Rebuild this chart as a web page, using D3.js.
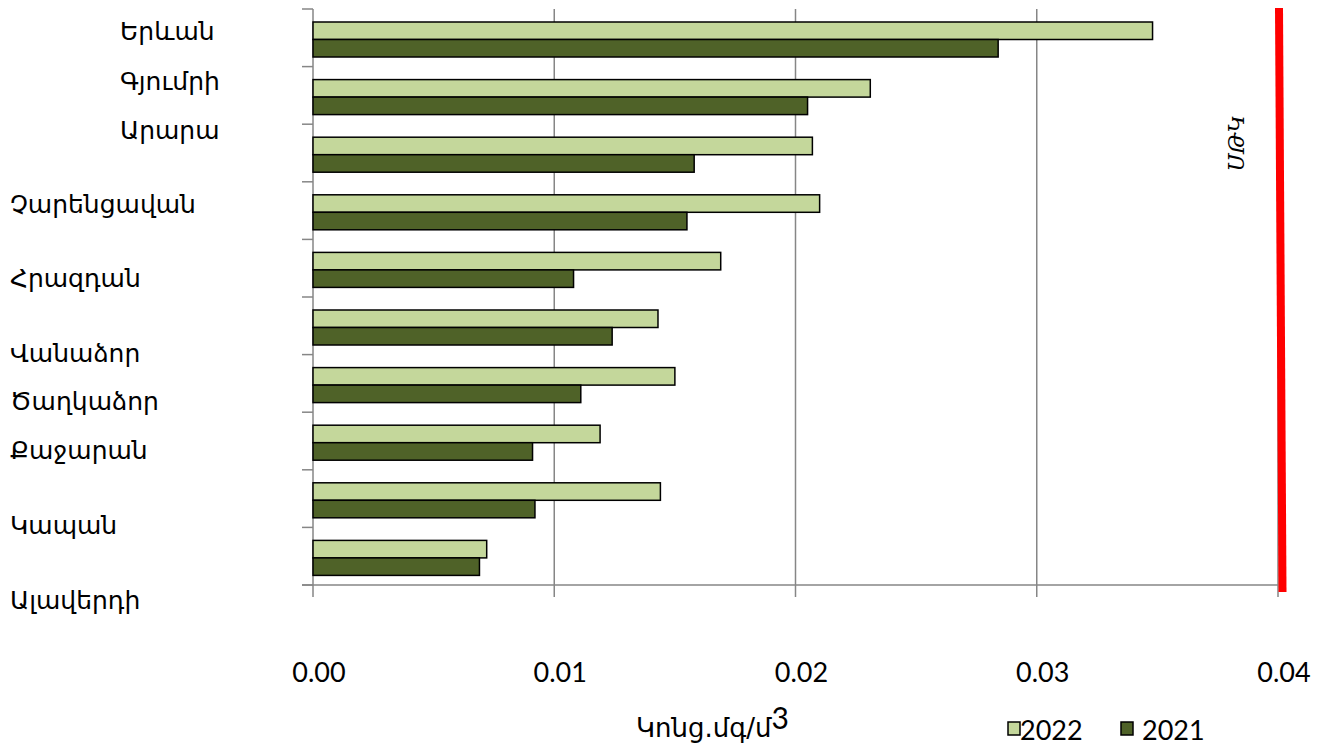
<!DOCTYPE html>
<html><head><meta charset="utf-8">
<script src="https://cdn.jsdelivr.net/npm/d3@7"></script>
<style>body{margin:0;background:#fff;}svg{display:block;}</style>
</head><body><svg id="c" width="1323" height="749"></svg>
<script>
const categories = ["Երևան","Գյումրի","Արարա","Չարենցավան","Հրազդան","Վանաձոր","Ծաղկաձոր","Քաջարան","Կապան","Ալավերդի"];
const values2022 = [0.0348,0.0231,0.0207,0.0210,0.0169,0.0143,0.0150,0.0119,0.0144,0.0072];
const values2021 = [0.0284,0.0205,0.0158,0.0155,0.0108,0.0124,0.0111,0.0091,0.0092,0.0069];
const seriesNames = ["2022","2021"];
const xTicks = [0,0.01,0.02,0.03,0.04];
const limitValue = 0.04;
const limitLabel = "ՍԹԿ";
const unitLabel = "Կոնց.մգ/մ";
// label layout (free-placed text boxes in the original)
const labelX = [120,120,120,10,10,10,10,10,10,10];
const labelY = [40,90,139,213,287,362,410,459,534,609];

const colors = {"2022":"#c4d79b","2021":"#4f6228"};
const numFont = "Lato, Liberation Sans Narrow, sans-serif";
const armFont = "DejaVu Sans, Noto Sans, sans-serif";
const svg = d3.select("#c");
const x = d3.scaleLinear().domain([0,0.04]).range([313,1278]);
const y = d3.scaleBand().domain(categories).range([9,585]).padding(0);
const ySub = d3.scaleBand().domain(seriesNames).range([13,48]).padding(0);
const grey = "#868686";

// gridlines
svg.append("g").selectAll("line").data(xTicks.slice(1)).join("line")
  .attr("x1",d=>x(d)).attr("x2",d=>x(d)).attr("y1",9).attr("y2",597)
  .attr("stroke",grey).attr("stroke-width",1.5);

// left axis
const ya = svg.append("g");
ya.append("line").attr("x1",x(0)).attr("x2",x(0)).attr("y1",9).attr("y2",597).attr("stroke",grey).attr("stroke-width",1.5);
const catTicks = categories.map(c=>y(c)).concat([y.range()[1]]);
ya.selectAll("line.t").data(catTicks).join("line").attr("class","t")
  .attr("x1",302).attr("x2",x(0)).attr("y1",d=>d).attr("y2",d=>d).attr("stroke",grey).attr("stroke-width",1.5);
// bottom axis
svg.append("line").attr("x1",302).attr("x2",x(0.04)).attr("y1",585).attr("y2",585).attr("stroke",grey).attr("stroke-width",1.5);

// bars
const data = categories.map((c,i)=>({c, v:{"2022":values2022[i],"2021":values2021[i]}}));
const g = svg.append("g");
data.forEach(d=>{
  seriesNames.forEach(s=>{
    g.append("rect").attr("x",x(0)).attr("y",y(d.c)+ySub(s))
      .attr("width",x(d.v[s])-x(0)).attr("height",ySub.bandwidth())
      .attr("fill",colors[s]).attr("stroke","#000").attr("stroke-width",1.5);
  });
});

// tick labels
svg.append("g").selectAll("text").data(xTicks).join("text")
  .attr("x",d=>x(d)+6).attr("y",682).attr("text-anchor","middle")
  .attr("font-family",numFont).attr("font-size",27)
  .text(d=>d.toFixed(2));

// category labels
svg.append("g").selectAll("text").data(categories).join("text")
  .attr("x",(d,i)=>labelX[i]).attr("y",(d,i)=>labelY[i])
  .attr("font-family",armFont).attr("font-size",25)
  .text(d=>d);

// limit line
svg.append("line").attr("x1",x(limitValue)+1).attr("x2",x(limitValue)+4.5)
  .attr("y1",8).attr("y2",592).attr("stroke","#ff0000").attr("stroke-width",8);
svg.append("text").attr("transform","translate(1244,143) rotate(-90)")
  .attr("text-anchor","middle").attr("font-family","DejaVu Serif, serif").attr("font-style","italic")
  .attr("font-size",22).text(limitLabel);

// unit label
const ut = svg.append("text").attr("x",636).attr("y",737).attr("font-family",armFont).attr("font-size",26);
ut.append("tspan").text(unitLabel);
ut.append("tspan").attr("font-family",numFont).attr("font-size",30).attr("dy",-8).text("3");

// legend
const legX = [1008,1121], legT = [1020,1142];
seriesNames.forEach((s,i)=>{
  svg.append("rect").attr("x",legX[i]).attr("y",722).attr("width",12).attr("height",13)
    .attr("fill",colors[s]).attr("stroke","#000").attr("stroke-width",1.5);
  svg.append("text").attr("x",legT[i]).attr("y",740).attr("font-family",numFont)
    .attr("font-size",27).text(s);
});
</script></body></html>
